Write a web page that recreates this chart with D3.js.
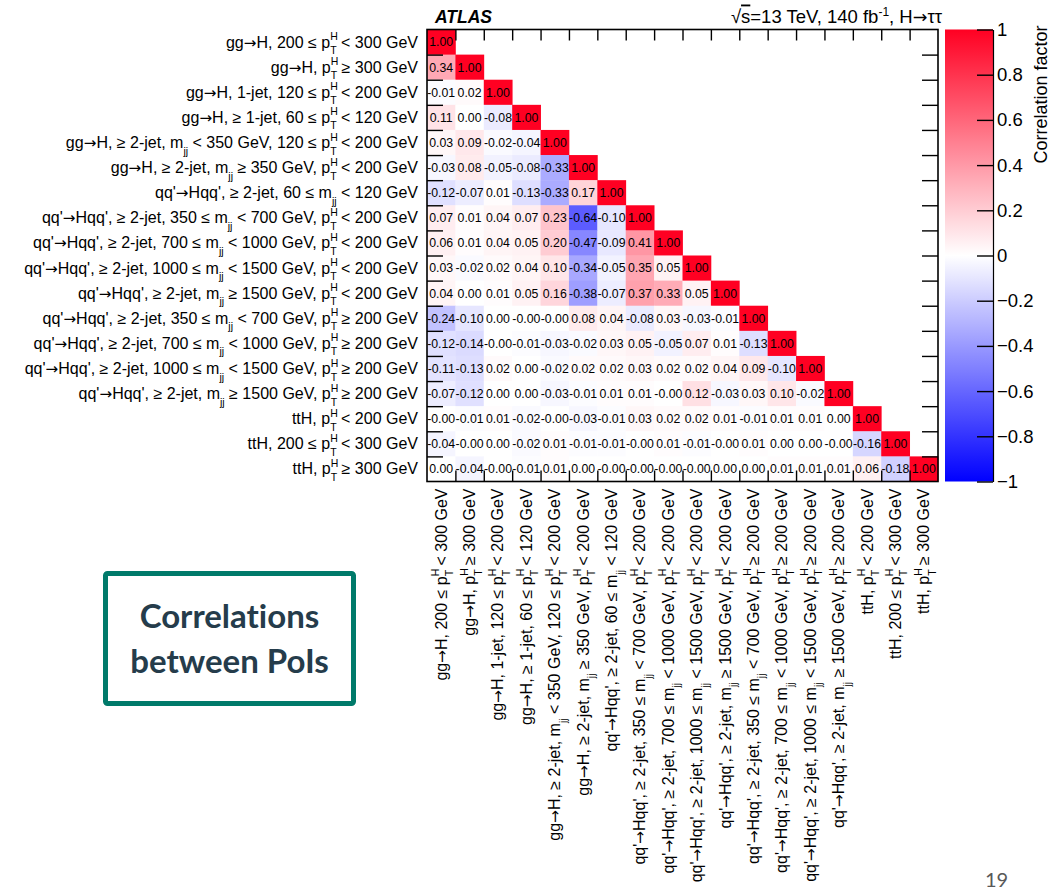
<!DOCTYPE html>
<html>
<head>
<meta charset="utf-8">
<script src="https://cdn.jsdelivr.net/npm/d3@7"></script>
<style>
  body { margin: 0; background: #fff; }
  svg { display: block; }
  .root-text { font-family: "Liberation Sans", Arial, Helvetica, sans-serif; white-space: pre; }
</style>
</head>
<body>
<svg id="chart" width="1051" height="894"></svg>
<script>
// Parameters of interest (same order on both axes)
const categories = [
  "gg→H, 200 ≤ p_T^H < 300 GeV",
  "gg→H, p_T^H ≥ 300 GeV",
  "gg→H, 1-jet, 120 ≤ p_T^H < 200 GeV",
  "gg→H, ≥ 1-jet, 60 ≤ p_T^H < 120 GeV",
  "gg→H, ≥ 2-jet, m_jj < 350 GeV, 120 ≤ p_T^H < 200 GeV",
  "gg→H, ≥ 2-jet, m_jj ≥ 350 GeV, p_T^H < 200 GeV",
  "qq'→Hqq', ≥ 2-jet, 60 ≤ m_jj < 120 GeV",
  "qq'→Hqq', ≥ 2-jet, 350 ≤ m_jj < 700 GeV, p_T^H < 200 GeV",
  "qq'→Hqq', ≥ 2-jet, 700 ≤ m_jj < 1000 GeV, p_T^H < 200 GeV",
  "qq'→Hqq', ≥ 2-jet, 1000 ≤ m_jj < 1500 GeV, p_T^H < 200 GeV",
  "qq'→Hqq', ≥ 2-jet, m_jj ≥ 1500 GeV, p_T^H < 200 GeV",
  "qq'→Hqq', ≥ 2-jet, 350 ≤ m_jj < 700 GeV, p_T^H ≥ 200 GeV",
  "qq'→Hqq', ≥ 2-jet, 700 ≤ m_jj < 1000 GeV, p_T^H ≥ 200 GeV",
  "qq'→Hqq', ≥ 2-jet, 1000 ≤ m_jj < 1500 GeV, p_T^H ≥ 200 GeV",
  "qq'→Hqq', ≥ 2-jet, m_jj ≥ 1500 GeV, p_T^H ≥ 200 GeV",
  "ttH, p_T^H < 200 GeV",
  "ttH, 200 ≤ p_T^H < 300 GeV",
  "ttH, p_T^H ≥ 300 GeV"
];

// Lower triangle of the correlation matrix, row i holds columns 0..i
const correlations = [
  [1.00],
  [0.34, 1.00],
  [-0.01, 0.02, 1.00],
  [0.11, 0.00, -0.08, 1.00],
  [0.03, 0.09, -0.02, -0.04, 1.00],
  [-0.03, 0.08, -0.05, -0.08, -0.33, 1.00],
  [-0.12, -0.07, 0.01, -0.13, -0.33, 0.17, 1.00],
  [0.07, 0.01, 0.04, 0.07, 0.23, -0.64, -0.10, 1.00],
  [0.06, 0.01, 0.04, 0.05, 0.20, -0.47, -0.09, 0.41, 1.00],
  [0.03, -0.02, 0.02, 0.04, 0.10, -0.34, -0.05, 0.35, 0.05, 1.00],
  [0.04, 0.00, 0.01, 0.05, 0.16, -0.38, -0.07, 0.37, 0.33, 0.05, 1.00],
  [-0.24, -0.10, 0.00, -0.00, -0.00, 0.08, 0.04, -0.08, 0.03, -0.03, -0.01, 1.00],
  [-0.12, -0.14, -0.00, -0.01, -0.03, -0.02, 0.03, 0.05, -0.05, 0.07, 0.01, -0.13, 1.00],
  [-0.11, -0.13, 0.02, 0.00, -0.02, 0.02, 0.02, 0.03, 0.02, 0.02, 0.04, 0.09, -0.10, 1.00],
  [-0.07, -0.12, 0.00, 0.00, -0.03, -0.01, 0.01, 0.01, -0.00, 0.12, -0.03, 0.03, 0.10, -0.02, 1.00],
  [-0.00, -0.01, 0.01, -0.02, -0.00, -0.03, -0.01, 0.03, 0.02, 0.02, 0.01, -0.01, 0.01, 0.01, 0.00, 1.00],
  [-0.04, -0.00, 0.00, -0.02, 0.01, -0.01, -0.01, -0.00, 0.01, -0.01, -0.00, 0.01, 0.00, 0.00, -0.00, -0.16, 1.00],
  [0.00, -0.04, -0.00, -0.01, 0.01, 0.00, -0.00, -0.00, -0.00, -0.00, 0.00, 0.00, 0.01, 0.01, 0.01, 0.06, -0.18, 1.00]
];

// Palette axis
const paletteTicks = [1, 0.8, 0.6, 0.4, 0.2, 0, -0.2, -0.4, -0.6, -0.8, -1];
const paletteTitle = "Correlation factor";
const paletteColors = ["#0000ff", "#ffffff", "#ff0022"];

// Slide annotations
const boxLines = ["Correlations", "between PoIs"];
const pageNumber = "19";

const svg = d3.select("#chart");
const n = categories.length;
const frame = { left: 427, right: 938, top: 29.5, bottom: 481.5 };
const bar = { left: 945, right: 993 };

const x = d3.scaleBand().domain(d3.range(n)).range([frame.left, frame.right]);
const y = d3.scaleBand().domain(d3.range(n)).range([frame.top, frame.bottom]);
const xEdge = d3.scaleLinear().domain([0, n]).range([frame.left, frame.right]);
const yEdge = d3.scaleLinear().domain([0, n]).range([frame.top, frame.bottom]);
const color = d3.scaleLinear().domain([-1, 0, 1]).range(paletteColors);
const zScale = d3.scaleLinear().domain([-1, 1]).range([frame.bottom, frame.top]);

const fmt = v => ((v < 0 || Object.is(v, -0)) ? "-" : "") + Math.abs(v).toFixed(2);

// Cells
const cells = correlations.flatMap((row, i) => row.map((v, j) => ({ i, j, v })));
svg.append("g")
  .selectAll("rect")
  .data(cells)
  .join("rect")
  .attr("x", d => x(d.j))
  .attr("y", d => y(d.i))
  .attr("width", x.bandwidth() + 0.4)
  .attr("height", y.bandwidth() + 0.4)
  .attr("fill", d => color(d.v));

svg.append("g")
  .attr("class", "root-text")
  .selectAll("text")
  .data(cells)
  .join("text")
  .attr("x", d => x(d.j) + x.bandwidth() / 2)
  .attr("y", d => y(d.i) + y.bandwidth() / 2 + 4.4)
  .attr("text-anchor", "middle")
  .attr("font-size", 12.3)
  .attr("fill", "#000")
  .text(d => fmt(d.v));

// Frame and tick marks (ticks sit on bin edges)
const tickG = svg.append("g").attr("stroke", "#000");
const edgeTicks = d3.range(1, n);
tickG.append("g").attr("transform", `translate(0,${frame.bottom})`)
  .call(d3.axisBottom(xEdge).tickValues(edgeTicks).tickSize(-11).tickSizeOuter(0).tickFormat(""));
tickG.append("g").attr("transform", `translate(0,${frame.top})`)
  .call(d3.axisTop(xEdge).tickValues(edgeTicks).tickSize(-11).tickSizeOuter(0).tickFormat(""));
tickG.append("g").attr("transform", `translate(${frame.left},0)`)
  .call(d3.axisLeft(yEdge).tickValues(edgeTicks).tickSize(-16).tickSizeOuter(0).tickFormat(""));
tickG.append("g").attr("transform", `translate(${frame.right},0)`)
  .call(d3.axisRight(yEdge).tickValues(edgeTicks).tickSize(-16).tickSizeOuter(0).tickFormat(""));
tickG.selectAll(".domain").remove();
tickG.selectAll("line").attr("stroke-width", 1.4);

svg.append("rect")
  .attr("x", frame.left).attr("y", frame.top)
  .attr("width", frame.right - frame.left).attr("height", frame.bottom - frame.top)
  .attr("fill", "none").attr("stroke", "#000").attr("stroke-width", 1.6);

// Category labels with p_T^H and m_jj notation
const FS = 16, SMALL = 10.5;
function plain(sel, str, dy) {
  // the arrow is drawn from a font with a long, tight glyph
  const bits = str.split(/(→)/);
  bits.forEach(b => {
    if (!b) return;
    const t = sel.append("tspan").attr("dy", dy).text(b);
    dy = 0;
    if (b === "→") t.attr("font-family", "'DejaVu Sans', sans-serif").attr("font-size", FS * 0.95);
  });
}
function richLabel(sel, str) {
  const parts = str.split(/(p_T\^H|m_jj)/);
  let shift = 0;
  parts.forEach(p => {
    if (!p) return;
    if (p === "p_T^H") {
      sel.append("tspan").attr("dy", -shift).text("p");
      sel.append("tspan").attr("font-size", SMALL).attr("dy", -7.5).text("H");
      sel.append("tspan").attr("font-size", SMALL).attr("dx", -0.722 * SMALL).attr("dy", 14).text("T");
      shift = 6.5;
      sel.append("tspan").attr("dx", (0.722 - 0.611) * SMALL).text("");
    } else if (p === "m_jj") {
      sel.append("tspan").attr("dy", -shift).text("m");
      sel.append("tspan").attr("font-size", SMALL).attr("dy", 6.5).text("jj");
      shift = 6.5;
    } else {
      plain(sel, p, -shift);
      shift = 0;
    }
  });
}

const yLabels = svg.append("g").attr("class", "root-text").attr("font-size", FS).attr("fill", "#000");
categories.forEach((c, i) => {
  const t = yLabels.append("text")
    .attr("x", frame.left - 9)
    .attr("y", y(i) + y.bandwidth() / 2 + 5.5)
    .attr("text-anchor", "end");
  richLabel(t, c);
});

const xLabels = svg.append("g").attr("class", "root-text").attr("font-size", FS).attr("fill", "#000");
categories.forEach((c, j) => {
  const t = xLabels.append("text")
    .attr("transform", `translate(${x(j) + x.bandwidth() / 2 + 5.5},${frame.bottom + 7}) rotate(-90)`)
    .attr("text-anchor", "end");
  richLabel(t, c);
});

// Palette (colour bar)
const defs = svg.append("defs");
const grad = defs.append("linearGradient").attr("id", "palette")
  .attr("x1", 0).attr("y1", 1).attr("x2", 0).attr("y2", 0);
d3.range(-1, 1.0001, 0.05).forEach(v => {
  grad.append("stop").attr("offset", (v + 1) / 2).attr("stop-color", color(v));
});
svg.append("rect")
  .attr("x", bar.left).attr("y", frame.top)
  .attr("width", bar.right - bar.left).attr("height", frame.bottom - frame.top)
  .attr("fill", "url(#palette)");

const zAxis = svg.append("g")
  .attr("class", "root-text")
  .attr("transform", `translate(${bar.right},0)`)
  .call(d3.axisRight(zScale)
    .tickValues(paletteTicks)
    .tickSize(-16)
    .tickSizeOuter(0)
    .tickPadding(4)
    .tickFormat(v => v === 0 ? "0" : (v < 0 ? "−" : "") + Math.abs(v)));
zAxis.select(".domain").attr("stroke", "#000").attr("stroke-width", 1.2);
zAxis.selectAll("line").attr("stroke", "#000").attr("stroke-width", 1.4);
zAxis.selectAll("text").attr("font-size", 18.5).attr("fill", "#000")
  .attr("font-family", "'Liberation Sans', Arial, sans-serif");

svg.append("text")
  .attr("class", "root-text")
  .attr("transform", `translate(1047,${frame.top - 4}) rotate(-90)`)
  .attr("text-anchor", "end")
  .attr("font-size", 18)
  .text(paletteTitle);

// Experiment label and conditions
svg.append("text")
  .attr("class", "root-text")
  .attr("x", 435).attr("y", 22.5)
  .attr("font-size", 17.5).attr("font-weight", "bold").attr("font-style", "italic")
  .text("ATLAS");

const cond = svg.append("text")
  .attr("class", "root-text")
  .attr("x", 942).attr("y", 22.5)
  .attr("text-anchor", "end")
  .attr("font-size", 18.5);
cond.append("tspan").text("√");
cond.append("tspan").attr("text-decoration", "overline").text("s");
cond.append("tspan").text("=13 TeV, 140 fb");
cond.append("tspan").attr("font-size", 12).attr("dy", -7).text("-1");
cond.append("tspan").attr("dy", 7).text(", H");
cond.append("tspan").attr("font-family", "'DejaVu Sans', sans-serif").attr("font-size", 17.5).text("→");
cond.append("tspan").text("ττ");

// Slide annotation box
svg.append("rect")
  .attr("x", 105.5).attr("y", 573.5)
  .attr("width", 248).attr("height", 130)
  .attr("rx", 2)
  .attr("fill", "#fff")
  .attr("stroke", "#007a6a")
  .attr("stroke-width", 5);

svg.append("g")
  .selectAll("text")
  .data(boxLines)
  .join("text")
  .attr("x", 229.5)
  .attr("y", (d, i) => 628 + i * 45)
  .attr("text-anchor", "middle")
  .attr("font-family", "Lato, 'Open Sans', sans-serif")
  .attr("font-weight", 700)
  .attr("font-size", 33)
  .style("font-variant-ligatures", "none")
  .attr("fill", "#253c4b")
  .text(d => d);

svg.append("text")
  .attr("x", 985).attr("y", 887)
  .attr("font-family", "Lato, sans-serif")
  .attr("font-size", 20)
  .attr("fill", "#595959")
  .text(pageNumber);
</script>
</body>
</html>
